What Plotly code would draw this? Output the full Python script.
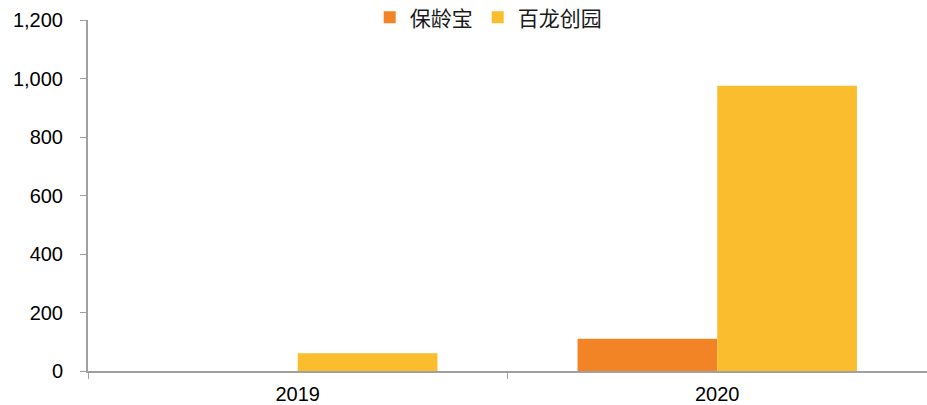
import plotly.graph_objects as go

categories = ["2019", "2020"]
series_names = ["保龄宝", "百龙创园"]
baolingbao = [0, 110]
bailong = [61, 975]
y_ticks = [0, 200, 400, 600, 800, 1000, 1200]
y_tick_labels = ["0", "200", "400", "600", "800", "1,000", "1,200"]

colors = ["#F38426", "#FABD2D"]

fig = go.Figure()
for name, vals, c in zip(series_names, [baolingbao, bailong], colors):
    fig.add_trace(go.Bar(x=categories, y=vals, name=name, marker_color=c, marker_line_width=0))

font_family = "Arial, 'Liberation Sans', 'Noto Sans CJK SC', sans-serif"
fig.update_layout(
    width=927, height=405,
    margin=dict(l=88, r=0, t=20, b=34, autoexpand=False),
    paper_bgcolor="white", plot_bgcolor="white",
    barmode="group", bargap=0.334, bargroupgap=0,
    font=dict(family=font_family, size=20, color="#000000"),
    legend=dict(orientation="h", x=0.477, xanchor="center", y=1.065, yanchor="top",
                font=dict(size=21, family="'Noto Sans CJK SC', sans-serif", color="#1a1a1a"),
                bgcolor="rgba(0,0,0,0)", itemwidth=30, traceorder="normal"),
    showlegend=True,
)
fig.update_xaxes(showline=True, linecolor="#A0A0A0", linewidth=2, ticks="outside",
                 tickson="boundaries", ticklen=6, tickcolor="#A0A0A0", tickwidth=1,
                 showgrid=False, tickfont=dict(size=20), automargin=False,
                 ticklabelstandoff=4)
fig.update_yaxes(range=[0, 1200], tickvals=y_ticks, ticktext=y_tick_labels,
                 showline=True, linecolor="#A0A0A0", linewidth=2, ticks="outside",
                 ticklen=6, tickcolor="#A0A0A0", tickwidth=1, showgrid=False,
                 zeroline=False, tickfont=dict(size=20), automargin=False,
                 ticklabelstandoff=13)

fig.write_html("out.html", config={"displayModeBar": False},
               post_script="document.body.style.margin='0';document.body.style.padding='0';")
